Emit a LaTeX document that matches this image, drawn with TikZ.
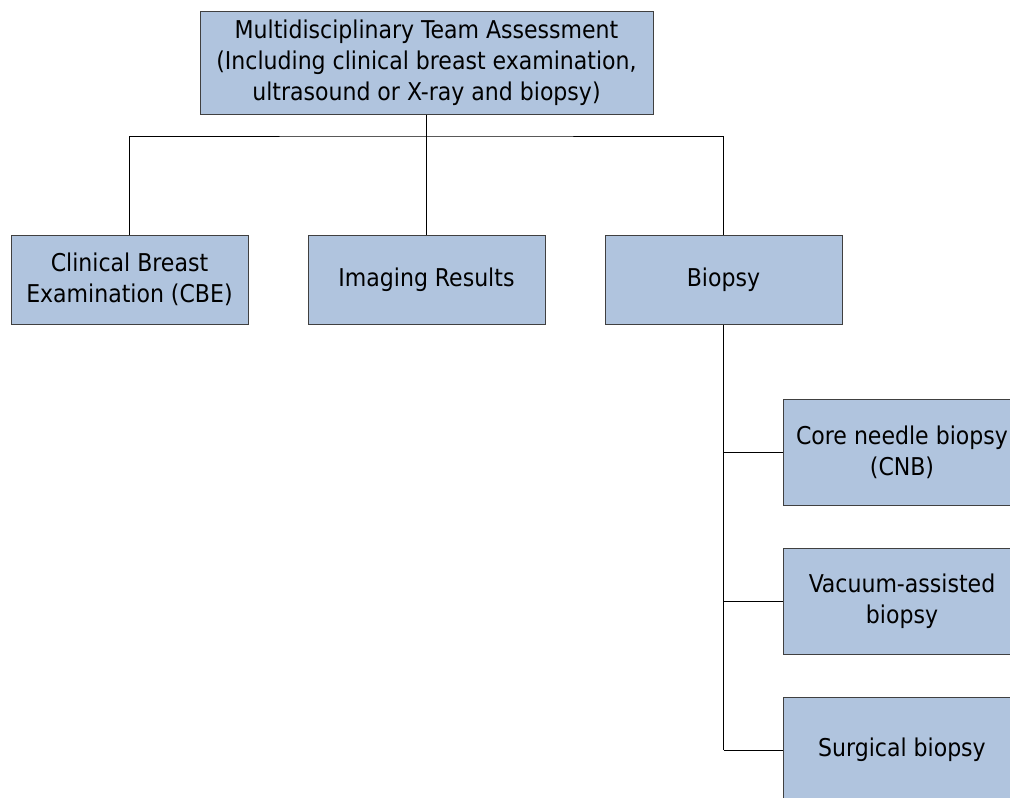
\documentclass[tikz,border=0pt]{standalone}
\usepackage{fontspec}
\setmainfont{DejaVu Sans Condensed}
\definecolor{boxfill}{HTML}{B0C4DE}
\definecolor{boxline}{HTML}{404040}
\begin{document}
\begin{tikzpicture}[x=1pt,y=-1pt,
  box/.style={draw=boxline,line width=1pt,fill=boxfill,minimum width=237pt,minimum height=89pt,align=center,inner sep=0pt,font=\fontsize{24.5}{31}\selectfont},
  subbox/.style={box,minimum width=238pt,minimum height=106pt},
  conn/.style={draw=black,line width=0.9pt}]
\useasboundingbox (0,0) rectangle (1010,798);
\clip (0,0) rectangle (1010,798);
\node[box,minimum width=453pt,minimum height=103pt] (top) at (426.5,62.5) {Multidisciplinary Team Assessment\\(Including clinical breast examination,\\ultrasound or X-ray and biopsy)};
\node[box] (cbe) at (129.5,279.5) {Clinical Breast\\Examination (CBE)};
\node[box] (img) at (426.5,279.5) {Imaging Results};
\node[box] (bio) at (723.5,279.5) {Biopsy};
\node[subbox] (cnb) at (902,452) {Core needle biopsy\\(CNB)};
\node[subbox] (vac) at (902,601) {Vacuum-assisted\\biopsy};
\node[subbox] (sur) at (902,750) {Surgical biopsy};
\coordinate (j) at (426.5,136);
\coordinate (b) at (bio.south |- sur.west);
\draw[conn] (top.south) -- (j);
\draw[conn] (cbe.north) |- (j) -| (bio.north);
\draw[conn] (j) -- (img.north);
\draw[conn,line width=1.4pt] (bio.south) -- (b);
\draw[conn] (b) -- (sur.west);
\draw[conn] (bio.south |- cnb.west) -- (cnb.west);
\draw[conn] (bio.south |- vac.west) -- (vac.west);
\end{tikzpicture}
\end{document}
